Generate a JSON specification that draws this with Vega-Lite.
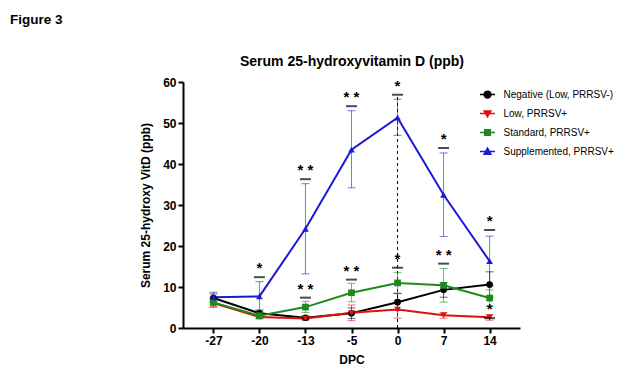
{
  "$schema": "https://vega.github.io/schema/vega-lite/v6.json",
  "autosize": "none",
  "width": 337,
  "height": 246,
  "padding": {"left": 183, "top": 82, "right": 110, "bottom": 51},
  "background": "white",
  "title": {"text": "Figure 3", "anchor": "start", "frame": "group", "dx": -173, "offset": 28, "font": "Liberation Sans", "fontSize": 13.5, "fontWeight": "bold", "color": "black"},
  "config": {
    "view": {"stroke": null},
    "font": "Liberation Sans",
    "axis": {"domainColor": "black", "domainWidth": 2, "tickColor": "black", "tickWidth": 2, "tickSize": 5, "labelFont": "Liberation Sans", "labelFontWeight": "bold", "labelFontSize": 12, "labelColor": "black", "titleFont": "Liberation Sans", "titleFontWeight": "bold", "titleFontSize": 12, "titleColor": "black", "grid": false},
    "legend": {"orient": "none", "legendX": 296, "legendY": 4, "title": null, "labelFont": "Liberation Sans", "labelFontSize": 10, "labelColor": "black", "symbolSize": 225, "rowPadding": 4, "labelOffset": 7.5, "symbolOpacity": 1}
  },
  "datasets": {
    "means": [
      {"dpc": "-27", "series": "Negative (Low, PRRSV-)", "mean": 7.3, "lo": 6.3, "hi": 8.3},
      {"dpc": "-20", "series": "Negative (Low, PRRSV-)", "mean": 3.6, "lo": 2.8, "hi": 4.4},
      {"dpc": "-13", "series": "Negative (Low, PRRSV-)", "mean": 2.5, "lo": 2.1, "hi": 2.9},
      {"dpc": "-5", "series": "Negative (Low, PRRSV-)", "mean": 3.6, "lo": 2.3, "hi": 4.9},
      {"dpc": "0", "series": "Negative (Low, PRRSV-)", "mean": 6.3, "lo": 4.3, "hi": 8.4},
      {"dpc": "7", "series": "Negative (Low, PRRSV-)", "mean": 9.3, "lo": 7.5, "hi": 11.1},
      {"dpc": "14", "series": "Negative (Low, PRRSV-)", "mean": 10.6, "lo": 7.5, "hi": 13.7},
      {"dpc": "-27", "series": "Low, PRRSV+", "mean": 6.1, "lo": 5.2, "hi": 7.0},
      {"dpc": "-20", "series": "Low, PRRSV+", "mean": 2.7, "lo": 2.2, "hi": 3.2},
      {"dpc": "-13", "series": "Low, PRRSV+", "mean": 2.3, "lo": 1.9, "hi": 2.7},
      {"dpc": "-5", "series": "Low, PRRSV+", "mean": 3.7, "lo": 1.8, "hi": 5.6},
      {"dpc": "0", "series": "Low, PRRSV+", "mean": 4.5, "lo": 2.4, "hi": 6.6},
      {"dpc": "7", "series": "Low, PRRSV+", "mean": 3.1, "lo": 2.4, "hi": 3.8},
      {"dpc": "14", "series": "Low, PRRSV+", "mean": 2.6, "lo": 1.9, "hi": 3.3},
      {"dpc": "-27", "series": "Standard, PRRSV+", "mean": 6.2, "lo": 5.0, "hi": 7.4},
      {"dpc": "-20", "series": "Standard, PRRSV+", "mean": 3.0, "lo": 2.4, "hi": 3.6},
      {"dpc": "-13", "series": "Standard, PRRSV+", "mean": 5.1, "lo": 3.8, "hi": 6.5},
      {"dpc": "-5", "series": "Standard, PRRSV+", "mean": 8.6, "lo": 6.4, "hi": 10.9},
      {"dpc": "0", "series": "Standard, PRRSV+", "mean": 11.0, "lo": 8.5, "hi": 13.5},
      {"dpc": "7", "series": "Standard, PRRSV+", "mean": 10.4, "lo": 6.3, "hi": 14.5},
      {"dpc": "14", "series": "Standard, PRRSV+", "mean": 7.3, "lo": 5.3, "hi": 9.3},
      {"dpc": "-27", "series": "Supplemented, PRRSV+", "mean": 7.5, "lo": 6.3, "hi": 8.7},
      {"dpc": "-20", "series": "Supplemented, PRRSV+", "mean": 7.7, "lo": 4.1, "hi": 11.3},
      {"dpc": "-13", "series": "Supplemented, PRRSV+", "mean": 24.2, "lo": 13.2, "hi": 35.2},
      {"dpc": "-5", "series": "Supplemented, PRRSV+", "mean": 43.5, "lo": 34.2, "hi": 53.0},
      {"dpc": "0", "series": "Supplemented, PRRSV+", "mean": 51.3, "lo": 47.0, "hi": 55.8},
      {"dpc": "7", "series": "Supplemented, PRRSV+", "mean": 32.5, "lo": 22.3, "hi": 42.7},
      {"dpc": "14", "series": "Supplemented, PRRSV+", "mean": 16.3, "lo": 10.4, "hi": 22.4}
    ],
    "annot": [
      {"dpc": "-20", "y": 12.4, "label": "*"},
      {"dpc": "-13", "y": 36.3, "label": "* *"},
      {"dpc": "-13", "y": 7.4, "label": "* *"},
      {"dpc": "-5", "y": 54.1, "label": "* *"},
      {"dpc": "-5", "y": 11.8, "label": "* *"},
      {"dpc": "0", "y": 56.9, "label": "*"},
      {"dpc": "0", "y": 14.7, "label": "*"},
      {"dpc": "7", "y": 43.9, "label": "*"},
      {"dpc": "7", "y": 15.7, "label": "* *"},
      {"dpc": "14", "y": 23.9, "label": "*"},
      {"dpc": "14", "y": 2.4, "label": "*"}
    ],
    "vline": [{"dpc": "0", "y0": 0, "y1": 56.9}]
  },
  "resolve": {"axis": {"x": "independent"}},
  "encoding": {
    "x": {"field": "dpc", "type": "ordinal", "axis": null,
      "scale": {"type": "point", "domain": ["-27", "-20", "-13", "-5", "0", "7", "14"], "padding": 0.66}}
  },
  "layer": [
    {
      "data": {"name": "vline"},
      "mark": {"type": "rule", "strokeDash": [3, 3], "strokeWidth": 1, "color": "black"},
      "encoding": {
        "x": {"field": "dpc", "type": "ordinal", "scale": {"type": "point", "domain": ["-27", "-20", "-13", "-5", "0", "7", "14"], "padding": 0.66},
          "axis": {"orient": "top", "title": "Serum 25-hydroxyvitamin D (ppb)", "titleFontSize": 14, "titlePadding": 14, "domain": false, "ticks": false, "labels": false}},
        "y": {"field": "y0", "type": "quantitative"},
        "y2": {"field": "y1"}
      }
    },
    {
      "data": {"name": "means"},
      "mark": {"type": "rule", "strokeWidth": 1, "opacity": 0.6},
      "encoding": {
        "y": {"field": "lo", "type": "quantitative"},
        "y2": {"field": "hi"},
        "color": {"field": "series", "type": "nominal",
          "scale": {"domain": ["Negative (Low, PRRSV-)", "Low, PRRSV+", "Standard, PRRSV+", "Supplemented, PRRSV+"],
            "range": ["#000000", "#e01010", "#1e8a1e", "#1a1ad6"]},
          "legend": {"encode": {"symbols": {"update": {
            "shape": {"signal": "datum.value === 'Negative (Low, PRRSV-)' ? 'M-1,0H1M0.45,0A0.45,0.45,0,1,1,-0.45,0A0.45,0.45,0,1,1,0.45,0Z' : datum.value === 'Low, PRRSV+' ? 'M-1,0H1M-0.45,-0.35L0.45,-0.35L0,0.42Z' : datum.value === 'Standard, PRRSV+' ? 'M-1,0H1M-0.38,-0.38H0.38V0.38H-0.38Z' : 'M-1,0H1M0,-0.45L0.45,0.35L-0.45,0.35Z'"},
            "fill": {"signal": "scale('color', datum.value)"},
            "stroke": {"signal": "scale('color', datum.value)"},
            "strokeWidth": {"value": 1.5},
            "opacity": {"value": 1}
          }}}}}
      }
    },
    {
      "data": {"name": "means"},
      "mark": {"type": "tick", "orient": "horizontal", "size": 8, "thickness": 1, "opacity": 0.6},
      "encoding": {
        "y": {"field": "lo", "type": "quantitative"},
        "color": {"field": "series", "type": "nominal"}
      }
    },
    {
      "data": {"name": "means"},
      "mark": {"type": "tick", "orient": "horizontal", "size": 8, "thickness": 1, "opacity": 0.6},
      "encoding": {
        "y": {"field": "hi", "type": "quantitative"},
        "color": {"field": "series", "type": "nominal"}
      }
    },
    {
      "data": {"name": "means"},
      "mark": {"type": "line", "strokeWidth": 2},
      "encoding": {
        "x": {"field": "dpc", "type": "ordinal", "scale": {"type": "point", "domain": ["-27", "-20", "-13", "-5", "0", "7", "14"], "padding": 0.66},
          "axis": {"orient": "bottom", "title": "DPC", "labelAngle": 0, "titlePadding": 8}},
        "y": {"field": "mean", "type": "quantitative",
          "scale": {"domain": [0, 60], "nice": false},
          "axis": {"values": [0, 10, 20, 30, 40, 50, 60], "title": "Serum 25-hydroxy VitD (ppb)", "titlePadding": 10}},
        "color": {"field": "series", "type": "nominal"}
      }
    },
    {
      "data": {"name": "means"},
      "transform": [{"filter": "datum.series === 'Negative (Low, PRRSV-)'"}],
      "mark": {"type": "point", "filled": true, "opacity": 1, "size": 45, "shape": "circle"},
      "encoding": {"y": {"field": "mean", "type": "quantitative"}, "color": {"field": "series", "type": "nominal"}}
    },
    {
      "data": {"name": "means"},
      "transform": [{"filter": "datum.series === 'Low, PRRSV+'"}],
      "mark": {"type": "point", "filled": true, "opacity": 1, "size": 45, "shape": "triangle-down"},
      "encoding": {"y": {"field": "mean", "type": "quantitative"}, "color": {"field": "series", "type": "nominal"}}
    },
    {
      "data": {"name": "means"},
      "transform": [{"filter": "datum.series === 'Standard, PRRSV+'"}],
      "mark": {"type": "point", "filled": true, "opacity": 1, "size": 45, "shape": "square"},
      "encoding": {"y": {"field": "mean", "type": "quantitative"}, "color": {"field": "series", "type": "nominal"}}
    },
    {
      "data": {"name": "means"},
      "transform": [{"filter": "datum.series === 'Supplemented, PRRSV+'"}],
      "mark": {"type": "point", "filled": true, "opacity": 1, "size": 45, "shape": "triangle-up"},
      "encoding": {"y": {"field": "mean", "type": "quantitative"}, "color": {"field": "series", "type": "nominal"}}
    },
    {
      "data": {"name": "annot"},
      "mark": {"type": "tick", "orient": "horizontal", "size": 11, "thickness": 2, "color": "black"},
      "encoding": {"y": {"field": "y", "type": "quantitative"}}
    },
    {
      "data": {"name": "annot"},
      "mark": {"type": "text", "fontSize": 15, "fontWeight": "bold", "dy": -9, "color": "black", "font": "Liberation Sans"},
      "encoding": {"y": {"field": "y", "type": "quantitative"}, "text": {"field": "label"}}
    }
  ]
}
